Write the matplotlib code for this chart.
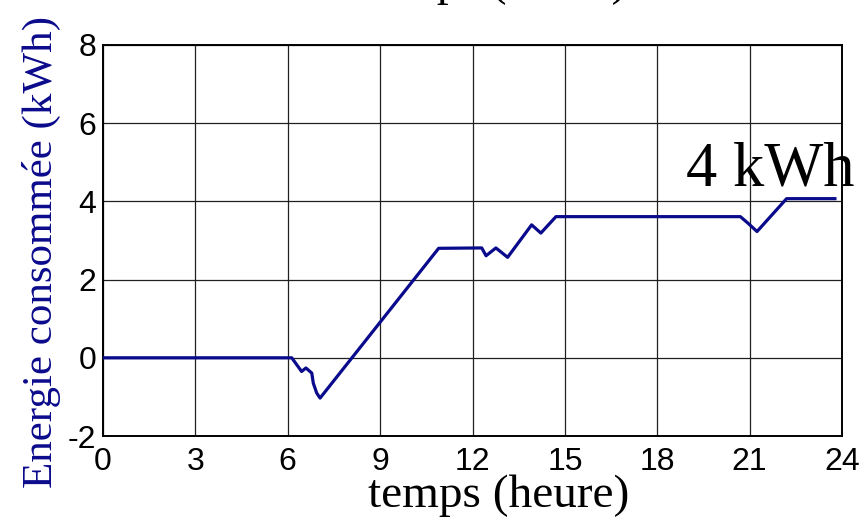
import matplotlib
matplotlib.use("Agg")
import matplotlib.pyplot as plt

plt.rcParams["axes.unicode_minus"] = False

# Data
t_hours = [0.0, 6.13, 6.45, 6.59, 6.78, 6.83, 6.94, 7.05, 10.9, 12.30, 12.44, 12.76,
           13.14, 13.92, 14.22, 14.71, 20.70, 20.95, 21.24, 22.20, 23.77]
energy_kwh = [0.0, 0.0, -0.35, -0.26, -0.39, -0.65, -0.90, -1.03, 2.80, 2.81, 2.61, 2.81,
              2.57, 3.40, 3.19, 3.61, 3.61, 3.44, 3.23, 4.07, 4.07]
x_ticks = [0, 3, 6, 9, 12, 15, 18, 21, 24]
y_ticks = [-2, 0, 2, 4, 6, 8]
annotation = "4 kWh"
x_label = "temps (heure)"
y_label = "Energie consommée (kWh)"

W, H = 868, 520
fig = plt.figure(figsize=(W / 100, H / 100), dpi=100)
ax = fig.add_axes([103 / W, 1 - 436 / H, (842 - 103) / W, (436 - 45) / H])

ax.plot(t_hours, energy_kwh, color="#0a0a8c", lw=2.3, solid_joinstyle="round", zorder=3)

ax.set_xlim(0, 24)
ax.set_ylim(-2, 8)
ax.set_xticks(x_ticks)
ax.set_yticks(y_ticks)
ax.grid(True, color="#202020", lw=0.9)
ax.set_axisbelow(True)
for s in ax.spines.values():
    s.set_color("black")
    s.set_linewidth(1.4)
ax.tick_params(axis="both", length=0, labelsize=23)
ax.tick_params(axis="x", pad=8)
ax.tick_params(axis="y", pad=5)
for lab in ax.get_xticklabels() + ax.get_yticklabels():
    lab.set_fontfamily("Liberation Sans")

serif = "Liberation Serif"
fig.text(499 / W, 1 - 507 / H, x_label, ha="center", va="baseline",
         fontsize=34, fontfamily=serif)
# title clipped at the top edge of the figure (as in the reference)
fig.text(497 / W, 1 + 5 / H, x_label, ha="center", va="baseline",
         fontsize=34, fontfamily=serif)
fig.text(41 / W, 1 - 252 / H, y_label, ha="center", va="center", rotation=90,
         fontsize=31, fontfamily=serif, color="#0a0a8c")
fig.text(686 / W, 1 - 185 / H, annotation, ha="left", va="baseline",
         fontsize=45, fontfamily=serif)

fig.savefig("out.png", dpi=100)
